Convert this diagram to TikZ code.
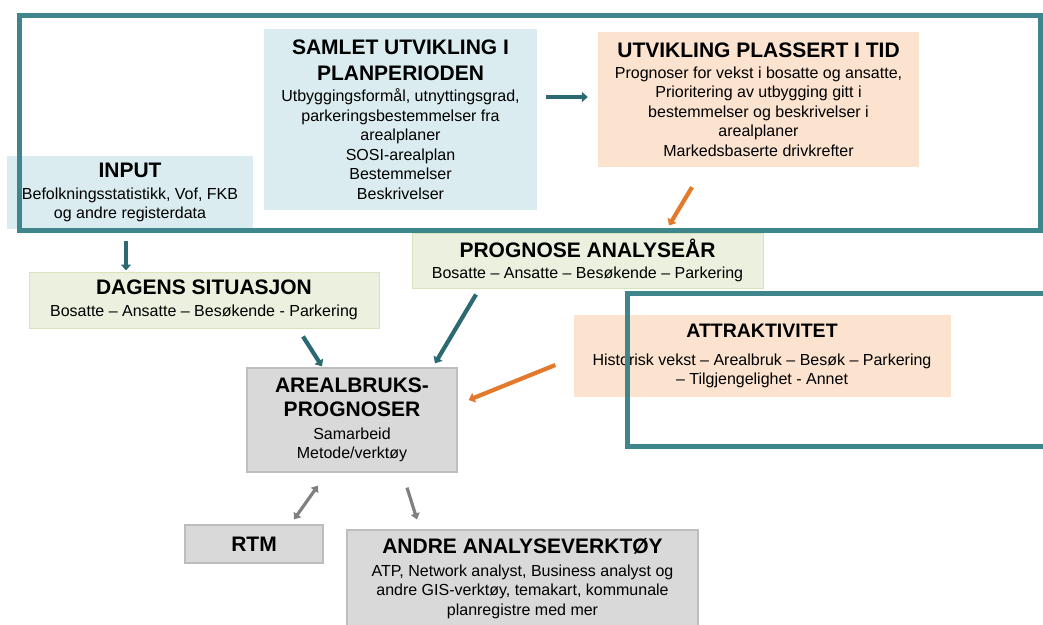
\documentclass[tikz,border=0pt]{standalone}
\usepackage{fontspec}
\setmainfont{Liberation Sans}
\usepackage{xcolor}
\definecolor{pale-blue}{HTML}{DAECEF}
\definecolor{pale-green}{HTML}{EBF1DE}
\definecolor{green-edge}{HTML}{D7E3BC}
\definecolor{pale-peach}{HTML}{FBE3D0}
\definecolor{pale-gray}{HTML}{D9D9D9}
\definecolor{gray-edge}{HTML}{BDBDBD}
\definecolor{frame-teal}{HTML}{3F868C}
\definecolor{arr-teal}{HTML}{2A6A70}
\definecolor{arr-orange}{HTML}{E3792B}
\definecolor{arr-gray}{HTML}{808080}
\usetikzlibrary{arrows.meta}
\newcommand{\bodyfont}{\fontsize{16}{19.5}\selectfont}
\newcommand{\boxtitle}[1]{{\fontsize{21}{25}\selectfont\bfseries #1}}
\tikzset{box/.style = {inner sep=0pt, align=center, text centered, font=\bodyfont, text=black}}
\tikzset{bluebox/.style = {box, fill=pale-blue}}
\tikzset{greenbox/.style = {box, fill=pale-green, draw=green-edge, line width=1pt}}
\tikzset{peachbox/.style = {box, fill=pale-peach}}
\tikzset{graybox/.style = {box, fill=pale-gray, draw=gray-edge, line width=1.2pt}}
\tikzset{frame/.style = {draw=frame-teal, line width=5pt}}
\tikzset{arr/.style = {line width=4.2pt, draw=arr-teal, -{Triangle[length=6pt, width=10pt]}}}
\tikzset{oarr/.style = {arr, draw=arr-orange}}
\tikzset{garr/.style = {line width=3.2pt, draw=arr-gray, -{Triangle[length=6pt, width=9pt]}}}

\begin{document}
\begin{tikzpicture}[x=1pt, y=-1pt]
\useasboundingbox (0,0) rectangle (1043,624);
\clip (0,0) rectangle (1043,624);

\node[bluebox, minimum width=246pt, minimum height=73pt] (inp) at (130,192.5)
  {\boxtitle{INPUT}\\[2pt]Befolkningsstatistikk, Vof, FKB\\og andre registerdata};
\node[bluebox, minimum width=273pt, minimum height=181pt] (samlet) at (400.5,119.5)
  {\boxtitle{SAMLET UTVIKLING I}\\[6pt]\boxtitle{PLANPERIODEN}\\[2pt]Utbyggingsformål, utnyttingsgrad,\\parkeringsbestemmelser fra\\arealplaner\\SOSI-arealplan\\Bestemmelser\\Beskrivelser};
\node[peachbox, minimum width=321pt, minimum height=135pt] (tid) at (758.5,99.5)
  {\boxtitle{UTVIKLING PLASSERT I TID}\\[1pt]Prognoser for vekst i bosatte og ansatte,\\Prioritering av utbygging gitt i\\bestemmelser og beskrivelser i\\arealplaner\\Markedsbaserte drivkrefter};
\node[greenbox, minimum width=350pt, minimum height=56pt] (dagens) at (204,300)
  {\boxtitle{DAGENS SITUASJON}\\[2pt]Bosatte – Ansatte – Besøkende - Parkering};
\node[greenbox, minimum width=351pt, minimum height=55pt] (prog) at (587.5,260.5)
  {\boxtitle{PROGNOSE ANALYSEÅR}\\[1pt]Bosatte – Ansatte – Besøkende – Parkering};
\node[peachbox, minimum width=377pt, minimum height=82pt] (attr) at (762,356)
  {{\fontsize{19.5}{23}\selectfont\bfseries ATTRAKTIVITET}\\[8pt]Historisk vekst – Arealbruk – Besøk – Parkering\\– Tilgjengelighet - Annet};
\node[graybox, minimum width=210pt, minimum height=104pt] (areal) at (352,420)
  {\boxtitle{AREALBRUKS-}\\[5pt]\boxtitle{PROGNOSER}\\[3pt]Samarbeid\\Metode/verktøy};
\node[graybox, minimum width=138pt, minimum height=38pt] (rtm) at (254,544)
  {\boxtitle{RTM}};
\node[graybox, minimum width=351pt, minimum height=97pt] (andre) at (522.5,578.5)
  {\boxtitle{ANDRE ANALYSEVERKTØY}\\[3pt]ATP, Network analyst, Business analyst og\\andre GIS-verktøy, temakart, kommunale\\planregistre med mer};

% frames are drawn over the boxes
\draw[frame] (19,15) rectangle (1040,230);
\draw[frame] (627,293) rectangle (1060,446);

\draw[arr]  ([xshift=9pt, yshift=22.5pt]samlet.east) -- ([xshift=-10pt, yshift=2.5pt]tid.west);
\draw[oarr] ([xshift=-66.5pt, yshift=-20pt]tid.south) -- ([xshift=81.5pt, yshift=7pt]prog.north);
\draw[arr]  ([xshift=-4pt, yshift=-12pt]inp.south) -- ([xshift=-78pt, yshift=1pt]dagens.north);
\draw[arr]  ([xshift=99pt, yshift=-8pt]dagens.south) -- ([xshift=-30pt, yshift=1pt]areal.north);
\draw[arr]  ([xshift=-111.5pt, yshift=-6pt]prog.south) -- ([xshift=83pt, yshift=4pt]areal.north);
\draw[oarr] ([xshift=-18pt, yshift=-9pt]attr.west) -- ([xshift=11pt, yshift=20pt]areal.east);
\draw[garr, {Triangle[length=6pt, width=9pt]}-{Triangle[length=6pt, width=9pt]}]
  ([xshift=-34pt, yshift=-13pt]areal.south) -- ([xshift=40pt, yshift=5pt]rtm.north);
\draw[garr] ([xshift=55pt, yshift=-15pt]areal.south) -- ([xshift=-105.5pt, yshift=10pt]andre.north);

\end{tikzpicture}
\end{document}
